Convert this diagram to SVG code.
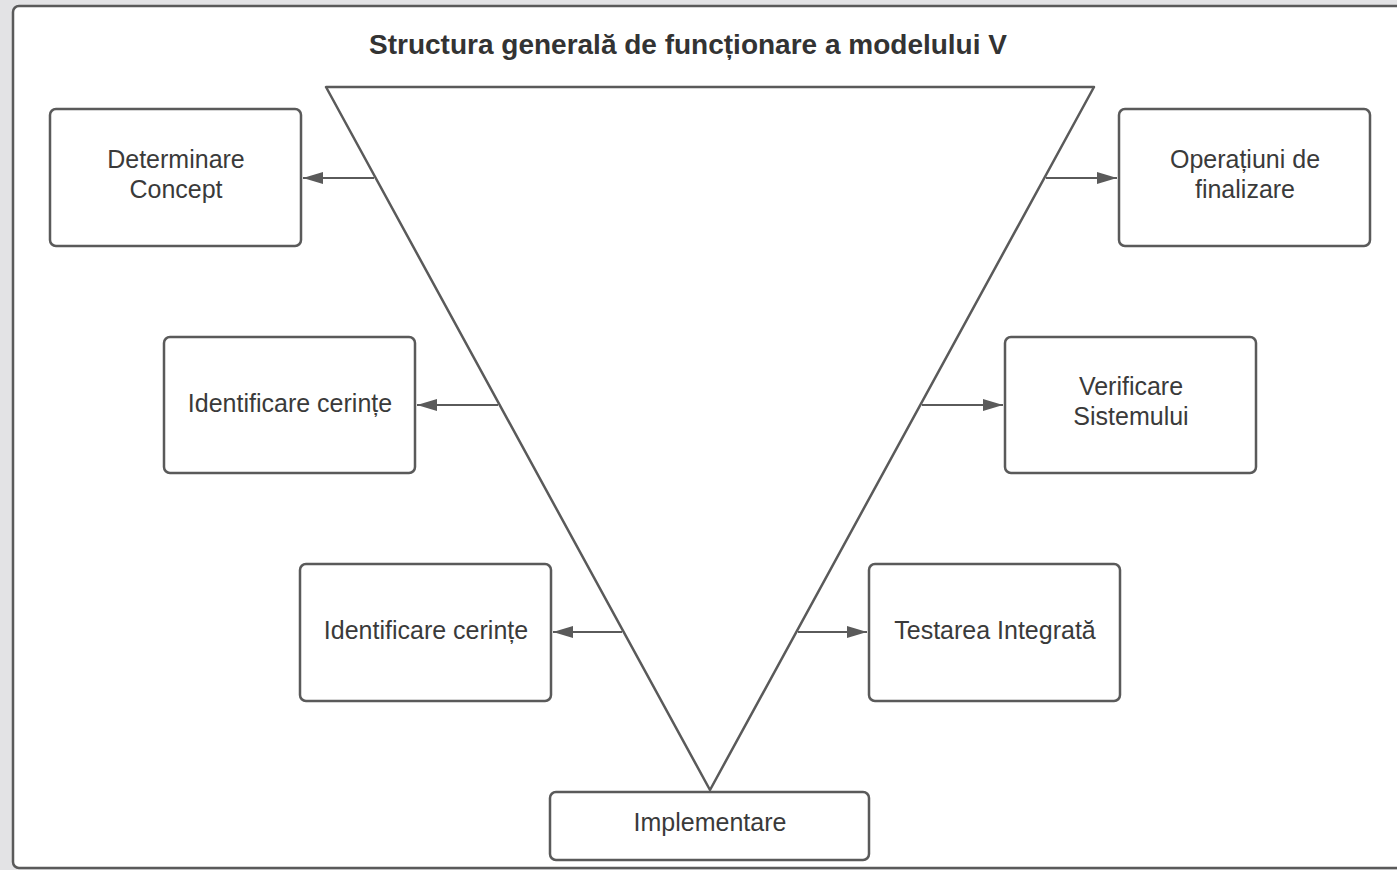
<svg xmlns="http://www.w3.org/2000/svg" width="1397" height="870" viewBox="0 0 1397 870">
<defs>
<style>
.box{fill:#ffffff;stroke:#5a5a5a;stroke-width:2.5}
.lbl{font-family:"Liberation Sans",Arial,sans-serif;font-size:25px;fill:#3a3a3a;text-anchor:middle}
.title{font-family:"Liberation Sans",Arial,sans-serif;font-size:28px;font-weight:bold;fill:#333333;text-anchor:middle}
.conn{stroke:#5a5a5a;stroke-width:2;fill:none;marker-end:url(#ah)}
</style>
<marker id="ah" viewBox="0 0 10 10" refX="10" refY="5" markerWidth="20" markerHeight="12" markerUnits="userSpaceOnUse" orient="auto" preserveAspectRatio="none">
<path d="M0,0 L10,5 L0,10 Z" fill="#5a5a5a"/>
</marker>
</defs>
<rect x="0" y="0" width="1397" height="870" fill="#e3e3e5"/>
<rect x="13" y="6" width="1400" height="862" rx="6" fill="#ffffff" stroke="#5a5a5a" stroke-width="2.5"/>
<text class="title" x="688" y="54">Structura generală de funcționare a modelului V</text>
<g id="v-shape">
<path d="M326,87 L1094,87 L710,790 Z" fill="#ffffff" stroke="#5a5a5a" stroke-width="2.5" stroke-linejoin="round"/>
</g>
<g id="connectors">
<line class="conn" x1="374" y1="178" x2="303" y2="178"/>
<line class="conn" x1="498" y1="405" x2="417" y2="405"/>
<line class="conn" x1="622" y1="632" x2="553" y2="632"/>
<line class="conn" x1="1046" y1="178" x2="1117" y2="178"/>
<line class="conn" x1="922" y1="405" x2="1003" y2="405"/>
<line class="conn" x1="798" y1="632" x2="867" y2="632"/>
</g>
<g id="determinare-concept">
<rect class="box" x="50" y="109" width="251" height="137" rx="6"/>
<text class="lbl" x="176" y="168">Determinare</text>
<text class="lbl" x="176" y="198">Concept</text>
</g>
<g id="identificare-cerinte-1">
<rect class="box" x="164" y="337" width="251" height="136" rx="6"/>
<text class="lbl" x="290" y="412">Identificare cerințe</text>
</g>
<g id="identificare-cerinte-2">
<rect class="box" x="300" y="564" width="251" height="137" rx="6"/>
<text class="lbl" x="426" y="639">Identificare cerințe</text>
</g>
<g id="operatiuni-finalizare">
<rect class="box" x="1119" y="109" width="251" height="137" rx="6"/>
<text class="lbl" x="1245" y="168">Operațiuni de</text>
<text class="lbl" x="1245" y="198">finalizare</text>
</g>
<g id="verificare-sistemului">
<rect class="box" x="1005" y="337" width="251" height="136" rx="6"/>
<text class="lbl" x="1131" y="395">Verificare</text>
<text class="lbl" x="1131" y="425">Sistemului</text>
</g>
<g id="testarea-integrata">
<rect class="box" x="869" y="564" width="251" height="137" rx="6"/>
<text class="lbl" x="995" y="639">Testarea Integrată</text>
</g>
<g id="implementare">
<rect class="box" x="550" y="792" width="319" height="68" rx="6"/>
<text class="lbl" x="710" y="831">Implementare</text>
</g>
</svg>
